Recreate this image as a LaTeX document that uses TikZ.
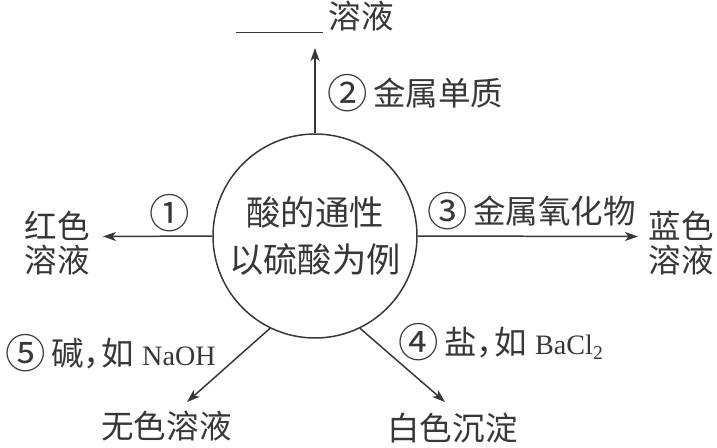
\documentclass[tikz,border=0pt]{standalone}
\usepackage{fontspec}
\setmainfont{Liberation Serif}
\newfontfamily\cjk{Noto Sans CJK SC}
\usepackage{xcolor}
\usepackage{tikz}
\usetikzlibrary{arrows.meta,positioning}
\definecolor{ink}{RGB}{55, 55, 55}
\newcommand{\cjkcomma}{，\kern-0.45em}
\newcommand{\stepno}[1]{\raisebox{-1.5pt}{\cjk\fontsize{23}{23}\selectfont #1}}
\newcommand{\formula}[1]{{\fontsize{16}{19}\selectfont #1}}

\begin{document}
\begin{tikzpicture}[
    hub/.style={circle, draw=ink, line width=0.85pt, minimum size=4.08cm,
        inner sep=0pt, font=\cjk\fontsize{19.5}{26.6}\selectfont, align=center, text=ink},
    result/.style={inner sep=0pt, font=\cjk\fontsize{18.5}{19.4}\selectfont, align=center, text=ink},
    reagent/.style={inner sep=0pt, font=\fontsize{18.5}{19.4}\selectfont, text=ink},
    react/.style={-{Stealth[length=2.6mm, width=1.8mm, inset=0.7mm]}, line width=0.85pt, draw=ink}
]
\useasboundingbox (0,0) rectangle (14.34,-8.94);

\node[hub] (acid) at (6.30,-4.72) {酸的通性\\以硫酸为例};

% products
\node[result] (blank) at (6.30,-0.34) {\rule[-3pt]{1.74cm}{0.6pt}\hspace{0.1cm}溶液};
\node[result] (red) at (1.15,-4.86) {红色\\溶液};
\node[result] (blue) at (13.62,-4.86) {蓝色\\溶液};
\node[result] (clear) at (3.33,-8.52) {无色溶液};
\node[result] (white) at (9.05,-8.56) {白色沉淀};

% arrow tips
\coordinate (tip2) at (6.30,-0.96);
\coordinate (tip1) at (2.06,-4.73);
\coordinate (tip3) at (12.76,-4.73);
\coordinate (tip5) at (3.74,-8.04);
\coordinate (tip4) at (8.90,-8.04);

\draw[react] (acid.north) -- (tip2);
\draw[react] (acid.west) -- (tip1);
\draw[react] (acid.east) -- (tip3);
\draw[react] (acid.-116) -- (tip5);
\draw[react] (acid.-64) -- (tip4);

% reagents
\node[reagent, anchor=west] (metal) at (6.54,-1.86) {\stepno{②}\,{\cjk 金属单质}};
\node[reagent] (ind) at (3.40,-4.26) {\stepno{①}};
\node[reagent, anchor=west] (oxide) at (8.54,-4.22) {\stepno{③}\,{\cjk 金属氧化物}};
\node[reagent, anchor=west] (base) at (0.10,-7.06) {\stepno{⑤}\,{\cjk 碱\cjkcomma 如} \formula{NaOH}};
\node[reagent, anchor=west] (salt) at (7.96,-6.84) {\stepno{④}\,{\cjk 盐\cjkcomma 如} \formula{BaCl\textsubscript{2}}};

\end{tikzpicture}
\end{document}
